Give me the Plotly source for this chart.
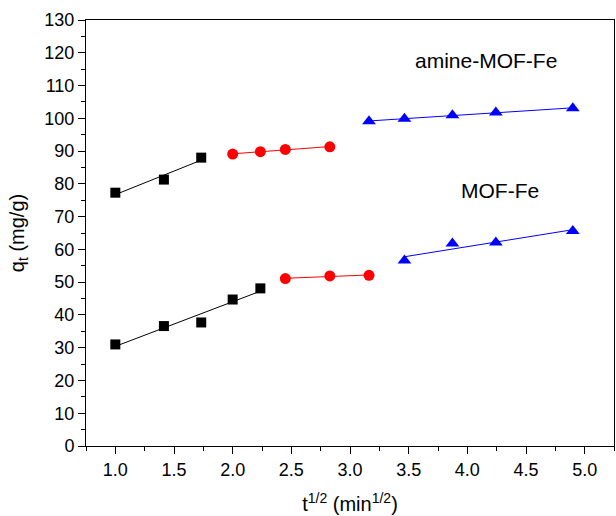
import numpy as np
import plotly.graph_objects as go

# sqrt(t) values and uptake (mg/g)
amine_sq_x = [1.0, 1.414, 1.732]
amine_sq_y = [77.3, 81.3, 88.0]
amine_ci_x = [2.0, 2.236, 2.449, 2.828]
amine_ci_y = [89.1, 89.8, 90.5, 91.3]
amine_tr_x = [3.162, 3.464, 3.873, 4.243, 4.899]
amine_tr_y = [99.1, 99.9, 100.9, 101.8, 103.1]

mof_sq_x = [1.0, 1.414, 1.732, 2.0, 2.236]
mof_sq_y = [31.0, 36.6, 37.7, 44.7, 48.1]
mof_ci_x = [2.449, 2.828, 3.162]
mof_ci_y = [51.1, 51.9, 52.1]
mof_tr_x = [3.464, 3.873, 4.243, 4.899]
mof_tr_y = [56.6, 61.8, 62.1, 65.6]

x_ticks = [1.0, 1.5, 2.0, 2.5, 3.0, 3.5, 4.0, 4.5, 5.0]
y_ticks = list(range(0, 131, 10))

segments = [
    (amine_sq_x, amine_sq_y, "black", "square", 10),
    (amine_ci_x, amine_ci_y, "red", "circle", 11),
    (amine_tr_x, amine_tr_y, "blue", "triangle-up", 12),
    (mof_sq_x, mof_sq_y, "black", "square", 10),
    (mof_ci_x, mof_ci_y, "red", "circle", 11),
    (mof_tr_x, mof_tr_y, "blue", "triangle-up", 12),
]

fig = go.Figure()
for xs, ys, col, sym, sz in segments:
    k, b = np.polyfit(xs, ys, 1)
    fx = [min(xs), max(xs)]
    fy = [k * v + b for v in fx]
    fig.add_trace(go.Scatter(x=fx, y=fy, mode="lines",
                             line=dict(color=col, width=1), showlegend=False,
                             hoverinfo="skip"))
    fig.add_trace(go.Scatter(x=xs, y=ys, mode="markers",
                             marker=dict(color=col, symbol=sym, size=sz,
                                         line=dict(width=0)),
                             showlegend=False))

font_family = "Arial, Liberation Sans, sans-serif"
fig.add_annotation(x=4.16, y=117.5, text="amine-MOF-Fe", showarrow=False,
                   font=dict(size=21, color="black", family=font_family))
fig.add_annotation(x=4.28, y=78.0, text="MOF-Fe", showarrow=False,
                   font=dict(size=21, color="black", family=font_family))

fig.update_layout(
    width=616, height=516,
    margin=dict(l=86, r=2, t=20, b=70),
    paper_bgcolor="white", plot_bgcolor="white",
    font=dict(family=font_family, color="black", size=18),
    showlegend=False,
)
fig.update_xaxes(
    range=[0.75, 5.25], tickvals=x_ticks,
    ticktext=[f"{v:.1f}" for v in x_ticks],
    ticks="outside", ticklen=7, tickwidth=1, tickcolor="black",
    minor=dict(ticks="outside", ticklen=4, tickwidth=1, tickcolor="black",
               dtick=0.25, tick0=0.75, showgrid=False),
    showline=True, linecolor="black", linewidth=1, mirror=True,
    showgrid=False, zeroline=False,
    title=dict(text="t<sup>1/2</sup> (min<sup>1/2</sup>)", font=dict(size=20), standoff=18),
    tickfont=dict(size=18),
)
fig.update_yaxes(
    range=[0, 130], tickvals=y_ticks,
    ticks="outside", ticklen=7, tickwidth=1, tickcolor="black",
    minor=dict(ticks="outside", ticklen=4, tickwidth=1, tickcolor="black",
               dtick=5, showgrid=False),
    showline=True, linecolor="black", linewidth=1, mirror=True,
    showgrid=False, zeroline=False,
    title=dict(text="q<sub>t</sub> (mg/g)", font=dict(size=20), standoff=14),
    tickfont=dict(size=18),
)

fig.write_html("out.html")
